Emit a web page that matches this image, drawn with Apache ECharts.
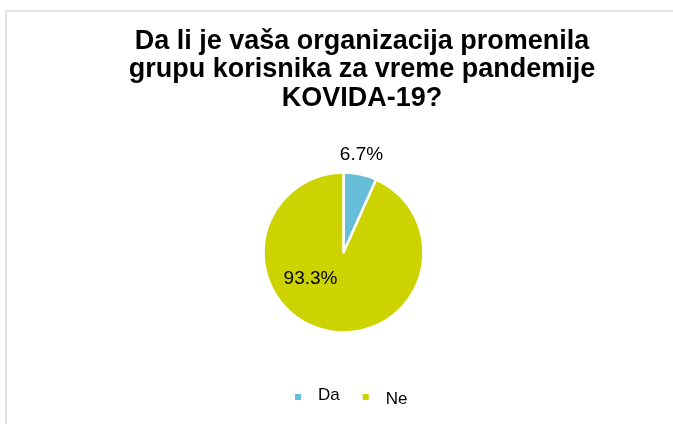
<!DOCTYPE html>
<html>
<head>
<meta charset="utf-8">
<script src="https://cdn.jsdelivr.net/npm/echarts@6/dist/echarts.min.js"></script>
<style>
html,body{margin:0;padding:0;background:#fff;}
#c{width:673px;height:424px;}
</style>
</head>
<body>
<div id="c"></div>
<script>
const titleText = 'Da li je vaša organizacija promenila\ngrupu korisnika za vreme pandemije\nKOVIDA-19?';
const categories = ['Da', 'Ne'];
const values = [6.7, 93.3];
const colors = ['#65BDD7', '#CCD300'];

const chart = echarts.init(document.getElementById('c'), null, {renderer: 'canvas'});
const labelShift = [[9, -56], [-24, -16]];
chart.setOption({
  animation: false,
  backgroundColor: '#fff',
  graphic: [{
    type: 'rect', shape: {x: 6, y: 11, width: 720, height: 460},
    style: {fill: 'none', stroke: '#d9d9d9', lineWidth: 1.5}, silent: true
  }],
  title: {
    text: titleText,
    left: 357, top: 22, textAlign: 'center',
    textStyle: {fontFamily: 'Liberation Sans, Arial', fontSize: 27, fontWeight: 'bold', color: '#000', lineHeight: 28.5}
  },
  legend: {
    bottom: 11, left: 288,
    itemWidth: 8, itemHeight: 8, itemGap: 21, icon: 'rect',
    data: categories,
    formatter: name => name === 'Ne' ? '{n|' + name + '}' : '{d|' + name + '}',
    textStyle: {
      fontFamily: 'Liberation Sans, Arial', fontSize: 17, color: '#000', padding: [0, 0, 0, 11],
      rich: {
        d: {fontFamily: 'Liberation Sans, Arial', fontSize: 17, color: '#000', padding: [0, 0, 3, 0]},
        n: {fontFamily: 'Liberation Sans, Arial', fontSize: 17, color: '#000', padding: [5, 0, 0, 0]}
      }
    }
  },
  series: [{
    type: 'pie',
    center: [343.5, 252.5],
    radius: 80,
    startAngle: 90,
    clockwise: true,
    data: categories.map((c, i) => ({name: c, value: values[i], itemStyle: {color: colors[i]}})),
    itemStyle: {borderColor: '#fff', borderWidth: 2.5},
    label: {
      show: true, position: 'inside',
      formatter: p => p.value.toFixed(1) + '%',
      fontFamily: 'Liberation Sans, Arial', fontSize: 19, color: '#000'
    },
    labelLine: {show: false},
    labelLayout: p => ({dx: labelShift[p.dataIndex][0], dy: labelShift[p.dataIndex][1]}),
    emphasis: {disabled: true}
  }]
});
</script>
</body>
</html>
